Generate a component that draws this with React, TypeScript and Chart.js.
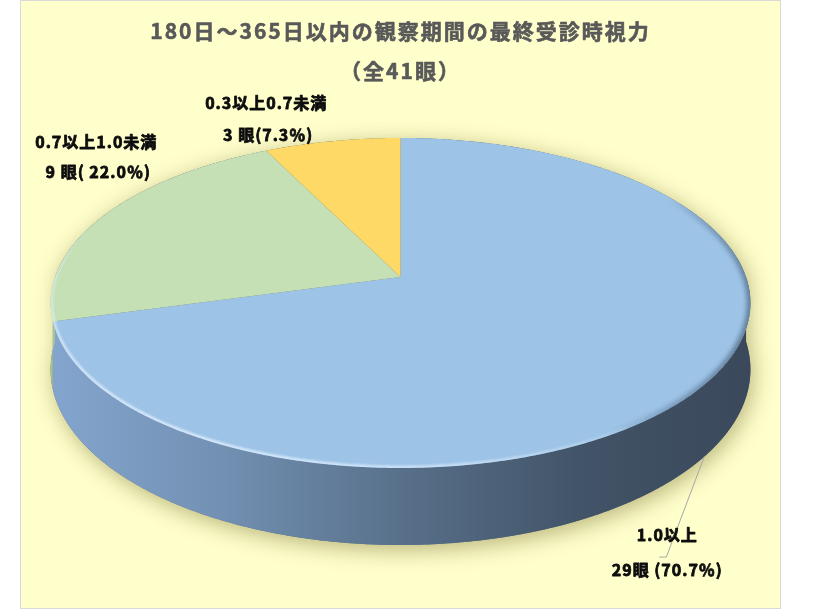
import React, { useEffect, useRef } from "react";
import { Chart, registerables } from "chart.js";

Chart.register(...registerables);

// ---- data ----
const TITLE_LINES = ["180日～365日以内の観察期間の最終受診時視力", "（全41眼）"];
const CATEGORIES = ["1.0以上", "0.7以上1.0未満", "0.3以上0.7未満"];
const EYE_COUNTS = [29, 9, 3];
const COUNT_LABELS = ["29眼 (70.7％)", "9 眼( 22.0％)", "3 眼(7.3％)"];

// ---- styles ----
const SLICE_COLORS = ["#9DC3E6", "#C5E0B4", "#FFD966"];
const SIDE_STOPS: [number, string][][] = [
  [
    [0, "rgb(132,165,206)"],
    [0.25, "rgb(114,144,178)"],
    [0.5, "rgb(88,112,138)"],
    [0.75, "rgb(66,84,104)"],
    [1, "rgb(58,72,90)"],
  ],
  [
    [0, "rgb(168,196,147)"],
    [1, "rgb(110,130,96)"],
  ],
  [
    [0, "rgb(230,190,80)"],
    [1, "rgb(150,120,50)"],
  ],
];
// perspective projection of the flat pie (relative to Chart.js outerRadius)
const PX = 1.252;
const PY = 0.583;
const PERSP = 0.1575;
const DEPTH = 0.235;

const FONT = "'Noto Sans CJK JP', 'Noto Sans', sans-serif";

// label placement relative to the projected rim point at each slice's mid angle
const LABEL_LAYOUT = [
  { level: 1, l1: [-37, 78.5], l2: [-37, 113.5], leader: [[-38, 100.5], [-45, 100.5]] },
  { level: 0, l1: [-8, -73], l2: [-6, -43], leader: null },
  { level: 0, l1: [-66, -38], l2: [-64, -6], leader: null },
];

const pie3d = {
  id: "pie3d",
  beforeDatasetsDraw(chart: any) {
    const ctx: CanvasRenderingContext2D = chart.ctx;
    const arcs = chart.getDatasetMeta(0).data;
    const cx = arcs[0].x;
    const cy = arcs[0].y;
    const R = arcs[0].outerRadius;

    const P = (ang: number, rho: number, level: number): [number, number] => {
      const a = Math.cos(ang) * rho;
      const b = -Math.sin(ang) * rho;
      const d = 1 + PERSP * b;
      return [cx + (R * PX * a) / d, cy + (-R * PY * b + level * R * DEPTH) / d];
    };
    const ring = (from: number, to: number, level: number, rho = 1, move = true) => {
      const n = Math.max(2, Math.ceil(Math.abs(to - from) / 0.008));
      for (let i = 0; i <= n; i++) {
        const t = from + ((to - from) * i) / n;
        const [x, y] = P(t, rho, level);
        if (i === 0 && move) ctx.moveTo(x, y);
        else ctx.lineTo(x, y);
      }
    };
    const topFace = () => {
      ctx.beginPath();
      ring(0, Math.PI * 2, 0);
      ctx.closePath();
    };
    const rimStroke = (s: number, e: number, rgb: string, maxA: number, width: number, blur: number, rho = 1) => {
      const steps = 40;
      ctx.filter = `blur(${blur}px)`;
      ctx.lineWidth = width;
      ctx.lineCap = "butt";
      for (let k = 0; k < steps; k++) {
        const t0 = s + ((e - s) * k) / steps;
        const t1 = s + ((e - s) * (k + 1.05)) / steps;
        const w = Math.sin((Math.PI * (k + 0.5)) / steps);
        ctx.strokeStyle = `rgba(${rgb},${(maxA * Math.pow(w, 0.7)).toFixed(3)})`;
        ctx.beginPath();
        ring(t0, t1, 0, rho);
        ctx.stroke();
      }
    };
    const boldText = (text: string, x: number, y: number, w: number) => {
      ctx.fillText(text, x, y);
      ctx.lineWidth = w;
      ctx.strokeText(text, x, y);
    };

    ctx.save();
    ctx.beginPath();
    ring(Math.PI, Math.PI * 2, 0);
    ring(0, Math.PI, 1, 1, false);
    ctx.closePath();
    ctx.shadowColor = "rgba(80,70,0,0.4)";
    ctx.shadowBlur = 22;
    ctx.shadowOffsetX = 3;
    ctx.shadowOffsetY = 5;
    ctx.fillStyle = "rgb(90,110,130)";
    ctx.fill();
    ctx.restore();

    // side walls
    const left = cx - R * PX * 1.02;
    const right = cx + R * PX * 1.02;
    arcs.forEach((arc: any, i: number) => {
      const s = Math.max(arc.startAngle, 0);
      const e = Math.min(arc.endAngle, Math.PI);
      if (s >= e) return;
      const g = ctx.createLinearGradient(left, 0, right, 0);
      SIDE_STOPS[i].forEach(([o, c]) => g.addColorStop(o, c));
      ctx.beginPath();
      ring(s, e, 0);
      ring(e, s, 1, 1, false);
      ctx.closePath();
      ctx.fillStyle = g;
      ctx.fill();
    });

    // top face slices
    arcs.forEach((arc: any, i: number) => {
      ctx.beginPath();
      ctx.moveTo(cx, cy);
      ring(arc.startAngle, arc.endAngle, 0, 1, false);
      ctx.closePath();
      ctx.fillStyle = SLICE_COLORS[i];
      ctx.fill();
    });

    // rim shading / bevel
    ctx.save();
    topFace();
    ctx.clip();
    rimStroke(-0.55, 1.0, "30,45,65", 0.55, 6, 2.5);
    rimStroke(0.9, Math.PI + 0.3, "225,240,255", 0.85, 3.5, 1, 0.997);
    ctx.restore();
    ctx.filter = "none";

    // labels
    ctx.save();
    ctx.fillStyle = "#0D0D0D";
    ctx.strokeStyle = "#0D0D0D";
    ctx.lineJoin = "round";
    ctx.textAlign = "center";
    ctx.textBaseline = "middle";
    ctx.font = `bold 16px ${FONT}`;
    (ctx as any).letterSpacing = "1px";
    arcs.forEach((arc: any, i: number) => {
      const mid = (arc.startAngle + arc.endAngle) / 2;
      const L = LABEL_LAYOUT[i];
      const [ax, ay] = P(mid, 1, L.level);
      if (L.leader) {
        ctx.save();
        ctx.strokeStyle = "#A6A6A6";
        ctx.lineWidth = 1;
        ctx.beginPath();
        ctx.moveTo(ax, ay);
        L.leader.forEach(([dx, dy]) => ctx.lineTo(ax + dx, ay + dy));
        ctx.stroke();
        ctx.restore();
      }
      boldText(chart.data.labels[i], ax + L.l1[0], ay + L.l1[1], 0.8);
      boldText(COUNT_LABELS[i], ax + L.l2[0], ay + L.l2[1], 0.8);
    });
    ctx.restore();

    // title
    ctx.save();
    ctx.fillStyle = "#595959";
    ctx.strokeStyle = "#595959";
    ctx.lineJoin = "round";
    ctx.textAlign = "center";
    ctx.textBaseline = "middle";
    ctx.font = `bold 21px ${FONT}`;
    (ctx as any).letterSpacing = "2px";
    boldText(TITLE_LINES[0], chart.width / 2, 30, 0.6);
    boldText(TITLE_LINES[1], chart.width / 2, 70, 0.6);
    ctx.restore();

    return false;
  },
};

export default function App() {
  const ref = useRef<HTMLCanvasElement>(null);
  useEffect(() => {
    if (!ref.current) return;
    const chart = new Chart(ref.current, {
      type: "pie",
      data: {
        labels: CATEGORIES,
        datasets: [
          {
            data: EYE_COUNTS,
            backgroundColor: SLICE_COLORS,
            borderWidth: 0,
          },
        ],
      },
      options: {
        responsive: false,
        animation: false,
        events: [],
        layout: { padding: { top: 0, bottom: 55, left: 0, right: 0 } },
        plugins: { legend: { display: false }, tooltip: { enabled: false }, title: { display: false } },
      },
      plugins: [pie3d],
    });
    return () => chart.destroy();
  }, []);
  return (
    <div
      style={{
        position: "absolute",
        left: 20,
        top: 0,
        width: 761,
        height: 609,
        boxSizing: "border-box",
        border: "1px solid #D9D9D9",
        background: "#FFFFCC",
      }}
    >
      <canvas ref={ref} width={759} height={607} style={{ display: "block" }} />
    </div>
  );
}
